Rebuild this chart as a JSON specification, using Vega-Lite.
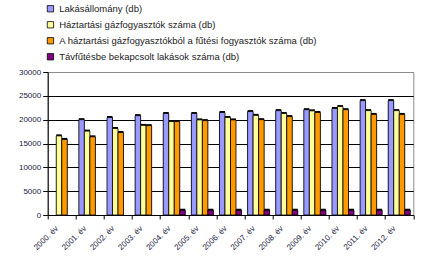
{
  "$schema": "https://vega.github.io/schema/vega-lite/v6.json",
  "width": 365.6,
  "height": 143,
  "autosize": {"type": "none"},
  "padding": {"left": 47.7, "top": 72, "right": 21.7, "bottom": 41},
  "background": "white",
  "config": {
    "view": {"stroke": "#8c8c8c", "strokeWidth": 1},
    "font": "Liberation Sans"
  },
  "data": {
    "values": [
      {"ev": "2000. év", "s": "Háztartási gázfogyasztók száma (db)", "v": 16600},
      {"ev": "2000. év", "s": "A háztartási gázfogyasztókból a fűtési fogyasztók száma (db)", "v": 15850},
      {"ev": "2001. év", "s": "Lakásállomány (db)", "v": 20000},
      {"ev": "2001. év", "s": "Háztartási gázfogyasztók száma (db)", "v": 17600},
      {"ev": "2001. év", "s": "A háztartási gázfogyasztókból a fűtési fogyasztók száma (db)", "v": 16400},
      {"ev": "2002. év", "s": "Lakásállomány (db)", "v": 20450},
      {"ev": "2002. év", "s": "Háztartási gázfogyasztók száma (db)", "v": 18150},
      {"ev": "2002. év", "s": "A háztartási gázfogyasztókból a fűtési fogyasztók száma (db)", "v": 17300},
      {"ev": "2003. év", "s": "Lakásállomány (db)", "v": 20850},
      {"ev": "2003. év", "s": "Háztartási gázfogyasztók száma (db)", "v": 18800},
      {"ev": "2003. év", "s": "A háztartási gázfogyasztókból a fűtési fogyasztók száma (db)", "v": 18750},
      {"ev": "2004. év", "s": "Lakásállomány (db)", "v": 21300},
      {"ev": "2004. év", "s": "Háztartási gázfogyasztók száma (db)", "v": 19600},
      {"ev": "2004. év", "s": "A háztartási gázfogyasztókból a fűtési fogyasztók száma (db)", "v": 19600},
      {"ev": "2004. év", "s": "Távfűtésbe bekapcsolt lakások száma (db)", "v": 1000},
      {"ev": "2005. év", "s": "Lakásállomány (db)", "v": 21300},
      {"ev": "2005. év", "s": "Háztartási gázfogyasztók száma (db)", "v": 19950},
      {"ev": "2005. év", "s": "A háztartási gázfogyasztókból a fűtési fogyasztók száma (db)", "v": 19800},
      {"ev": "2005. év", "s": "Távfűtésbe bekapcsolt lakások száma (db)", "v": 1000},
      {"ev": "2006. év", "s": "Lakásállomány (db)", "v": 21500},
      {"ev": "2006. év", "s": "Háztartási gázfogyasztók száma (db)", "v": 20450},
      {"ev": "2006. év", "s": "A háztartási gázfogyasztókból a fűtési fogyasztók száma (db)", "v": 19950},
      {"ev": "2006. év", "s": "Távfűtésbe bekapcsolt lakások száma (db)", "v": 1000},
      {"ev": "2007. év", "s": "Lakásállomány (db)", "v": 21700},
      {"ev": "2007. év", "s": "Háztartási gázfogyasztók száma (db)", "v": 20900},
      {"ev": "2007. év", "s": "A háztartási gázfogyasztókból a fűtési fogyasztók száma (db)", "v": 20000},
      {"ev": "2007. év", "s": "Távfűtésbe bekapcsolt lakások száma (db)", "v": 1000},
      {"ev": "2008. év", "s": "Lakásállomány (db)", "v": 21900},
      {"ev": "2008. év", "s": "Háztartási gázfogyasztók száma (db)", "v": 21300},
      {"ev": "2008. év", "s": "A háztartási gázfogyasztókból a fűtési fogyasztók száma (db)", "v": 20650},
      {"ev": "2008. év", "s": "Távfűtésbe bekapcsolt lakások száma (db)", "v": 1000},
      {"ev": "2009. év", "s": "Lakásállomány (db)", "v": 22100},
      {"ev": "2009. év", "s": "Háztartási gázfogyasztók száma (db)", "v": 21850},
      {"ev": "2009. év", "s": "A háztartási gázfogyasztókból a fűtési fogyasztók száma (db)", "v": 21500},
      {"ev": "2009. év", "s": "Távfűtésbe bekapcsolt lakások száma (db)", "v": 1000},
      {"ev": "2010. év", "s": "Lakásállomány (db)", "v": 22350},
      {"ev": "2010. év", "s": "Háztartási gázfogyasztók száma (db)", "v": 22750},
      {"ev": "2010. év", "s": "A háztartási gázfogyasztókból a fűtési fogyasztók száma (db)", "v": 22100},
      {"ev": "2010. év", "s": "Távfűtésbe bekapcsolt lakások száma (db)", "v": 1000},
      {"ev": "2011. év", "s": "Lakásállomány (db)", "v": 24000},
      {"ev": "2011. év", "s": "Háztartási gázfogyasztók száma (db)", "v": 21900},
      {"ev": "2011. év", "s": "A háztartási gázfogyasztókból a fűtési fogyasztók száma (db)", "v": 21100},
      {"ev": "2011. év", "s": "Távfűtésbe bekapcsolt lakások száma (db)", "v": 1000},
      {"ev": "2012. év", "s": "Lakásállomány (db)", "v": 24000},
      {"ev": "2012. év", "s": "Háztartási gázfogyasztók száma (db)", "v": 21900},
      {"ev": "2012. év", "s": "A háztartási gázfogyasztókból a fűtési fogyasztók száma (db)", "v": 21100},
      {"ev": "2012. év", "s": "Távfűtésbe bekapcsolt lakások száma (db)", "v": 1000}
    ]
  },
  "encoding": {
    "x": {
      "field": "ev", "type": "nominal", "title": null,
      "scale": {"paddingInner": 0, "paddingOuter": 0},
      "axis": {
        "tickBand": "extent", "labelAngle": -45, "labelAlign": "right", "labelBaseline": "middle",
        "labelPadding": 8, "labelOffset": -5, "labelFontSize": 8, "labelColor": "#1a1a40",
        "domainColor": "black", "tickColor": "black", "tickSize": 4, "domainWidth": 1, "tickWidth": 1
      }
    },
    "xOffset": {
      "field": "s", "type": "nominal",
      "sort": ["Lakásállomány (db)", "Háztartási gázfogyasztók száma (db)", "A háztartási gázfogyasztókból a fűtési fogyasztók száma (db)", "Távfűtésbe bekapcsolt lakások száma (db)"],
      "scale": {"paddingInner": 0, "paddingOuter": 0.55, "domain": ["Lakásállomány (db)", "Háztartási gázfogyasztók száma (db)", "A háztartási gázfogyasztókból a fűtési fogyasztók száma (db)", "Távfűtésbe bekapcsolt lakások száma (db)"]}
    },
    "y": {
      "field": "v", "type": "quantitative", "title": null,
      "scale": {"domain": [0, 30000], "nice": false},
      "axis": {
        "values": [0, 5000, 10000, 15000, 20000, 25000, 30000], "format": "d",
        "labelFontSize": 8, "labelColor": "#1a1a40", "labelPadding": 2,
        "domainColor": "black", "tickColor": "black", "tickSize": 5,
        "gridColor": {"condition": {"test": "datum.value == 30000", "value": "#8c8c8c"}, "value": "black"},
        "gridOpacity": 1, "gridWidth": 1
      }
    }
  },
  "layer": [
    {
      "mark": {"type": "bar", "color": "black", "xOffset": 1.6, "yOffset": -1.5}
    },
    {
      "mark": {"type": "bar", "stroke": "black", "strokeWidth": 0.8},
      "encoding": {
        "color": {
          "field": "s", "type": "nominal", "title": null,
          "scale": {
            "domain": ["Lakásállomány (db)", "Háztartási gázfogyasztók száma (db)", "A háztartási gázfogyasztókból a fűtési fogyasztók száma (db)", "Távfűtésbe bekapcsolt lakások száma (db)"],
            "range": ["#9999ff", "#ffff99", "#ff9900", "#800080"]
          },
          "legend": {
            "orient": "none", "legendX": -2, "legendY": -68,
            "symbolType": "square", "symbolSize": 40, "symbolStrokeColor": "black", "symbolStrokeWidth": 0.8,
            "symbolOpacity": 1,
            "labelFontSize": 9.5, "labelColor": "#222", "labelLimit": 400, "rowPadding": 5, "symbolOffset": 0, "labelOffset": 4
          }
        }
      }
    }
  ]
}
